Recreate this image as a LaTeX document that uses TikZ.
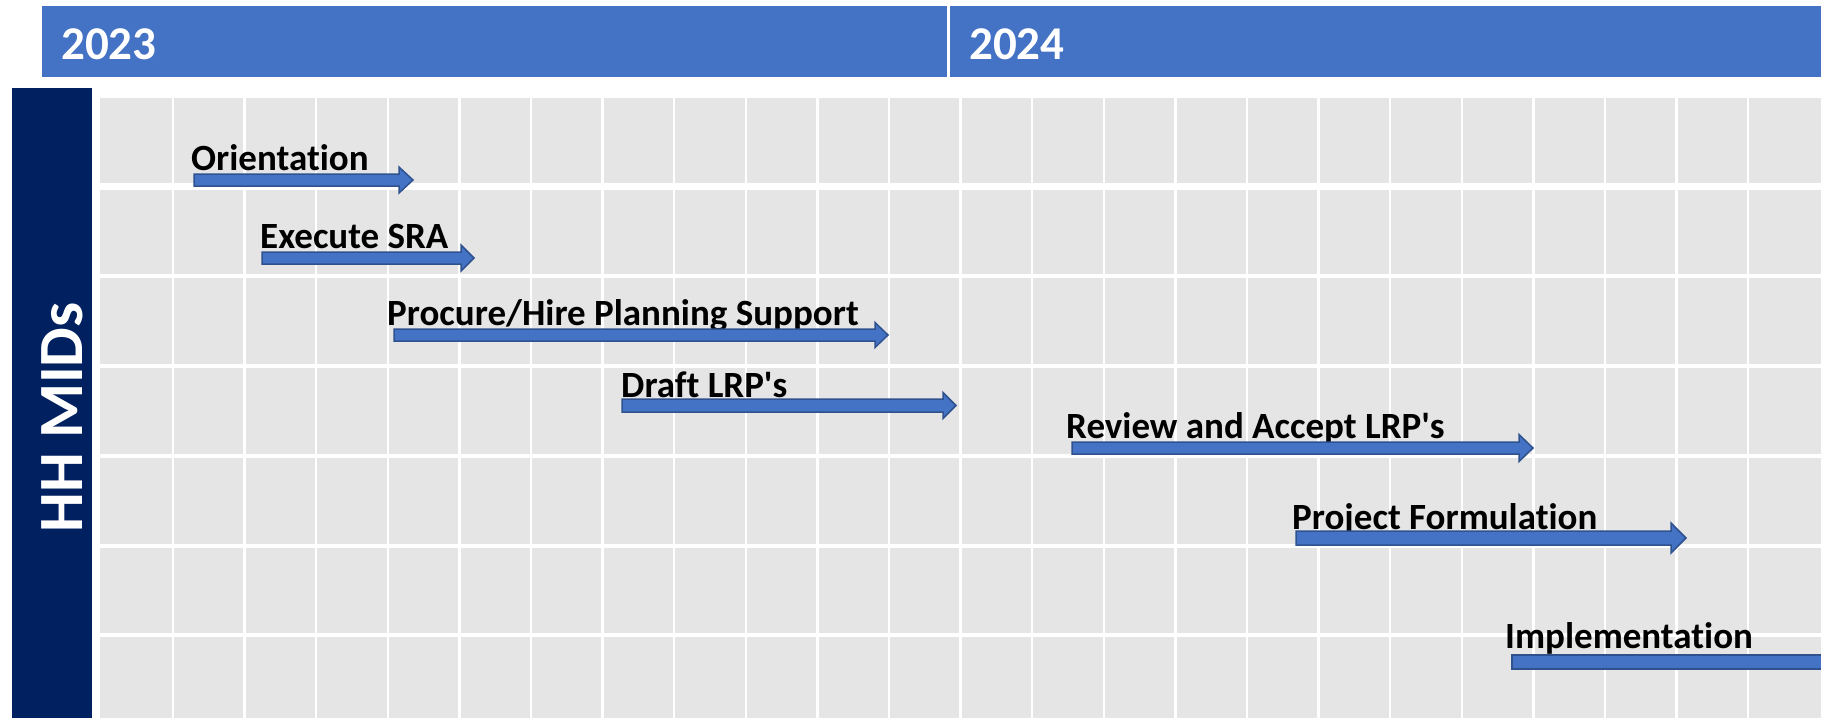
\documentclass[tikz,border=0pt]{standalone}
\usepackage{fontspec}
\setmainfont{Carlito}[Ligatures={TeXOff,NoCommon}]
\definecolor{hdrblue}{HTML}{4472C4}
\definecolor{navyband}{HTML}{002060}
\definecolor{cellgray}{HTML}{E5E5E5}
\definecolor{arrowedge}{HTML}{2F528F}
\newcommand\ganttbar[6]{% x0, head base, tip, y centre, half shaft, half head
  \draw[barstyle] (#1,#4-#5) -- (#2,#4-#5) -- (#2,#4-#6) -- (#3,#4) -- (#2,#4+#6) -- (#2,#4+#5) -- (#1,#4+#5) -- cycle;}
\tikzset{
  barstyle/.style={fill=hdrblue, draw=arrowedge, line width=1.5, line join=miter},
  task/.style={anchor=base west, inner sep=0pt, text=black, font=\fontsize{37}{41}\selectfont\bfseries},
  yearlabel/.style={anchor=base west, inner sep=0pt, text=white, font=\fontsize{47}{52}\selectfont\bfseries},
  gridline/.style={white, line width=2.5},
  rowline/.style={white, line width=4}
}
\begin{document}
\begin{tikzpicture}[x=1pt,y=-1pt]
\useasboundingbox (0,0) rectangle (1821,718);
\fill[white] (0,0) rectangle (1821,718);
% header
\fill[hdrblue] (42,6) rectangle (947,77);
\fill[hdrblue] (950,6) rectangle (1821,77);
\node[yearlabel] (y2023) at (61,59) {2023};
\node[yearlabel] (y2024) at (969,59) {2024};
% side band
\fill[navyband] (12,88) rectangle (92,718);
\node[rotate=90, anchor=base, inner sep=0pt, text=white, font=\fontsize{63}{70}\selectfont\bfseries] (lane) at (82,417.5) {HH MIDs};
% grid
\fill[cellgray] (100,98) rectangle (1821,718);
\foreach \k in {0,...,22} \draw[gridline] ({173+71.6*\k},98) -- ({173+71.6*\k},718);
\draw[white, line width=7.5] (100,186.3) -- (1821,186.3);
\foreach \yy in {276,366,456,545.5,635} \draw[rowline] (100,\yy) -- (1821,\yy);
% task labels
\node[task] (t1) at (191,170) {Orientation};
\node[task] (t2) at (260,248) {Execute SRA};
\node[task] (t3) at (387,325) {Procure/Hire Planning Support};
\node[task] (t4) at (621,397) {Draft LRP's};
\node[task] (t5) at (1066,438) {Review and Accept LRP's};
\node[task] (t6) at (1292,529) {Project Formulation};
\node[task] (t7) at (1505,648) {Implementation};
% bars
\ganttbar{194}{399}{413}{180}{6}{13}
\ganttbar{262}{461}{474}{258}{6}{13}
\ganttbar{394}{875}{888}{335}{6}{12.5}
\ganttbar{622}{943}{956}{405.5}{6.5}{13}
\ganttbar{1072}{1519}{1533}{448}{6}{13.5}
\ganttbar{1296}{1671}{1686}{538}{7}{15}
\draw[barstyle] (1512,655) rectangle (1830,669);
\end{tikzpicture}
\end{document}
